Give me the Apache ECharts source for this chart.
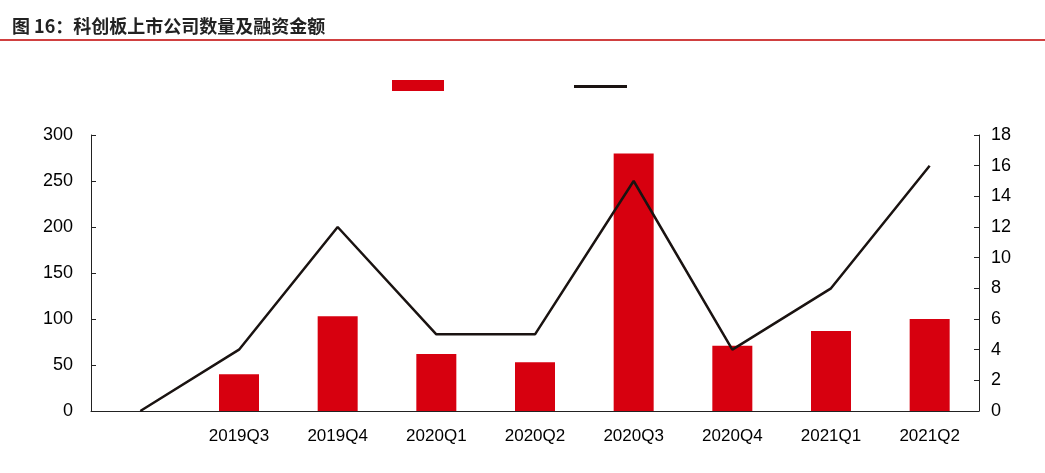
<!DOCTYPE html><html><head><meta charset="utf-8"><script src="https://cdn.jsdelivr.net/npm/echarts@6/dist/echarts.min.js"></script></head><body style="margin:0"><div id="c" style="width:1045px;height:473px"></div><script>
const categories=['','2019Q3','2019Q4','2020Q1','2020Q2','2020Q3','2020Q4','2021Q1','2021Q2'];
const amount=[null,40,103,62,53,280,71,87,100];
const count=[0,4,12,5,5,15,4,8,16];
const ch=echarts.init(document.getElementById('c'));
ch.setOption({
 animation:false,
 title:{text:'图 16：科创板上市公司数量及融资金额',left:7,top:12,textStyle:{fontSize:18,fontWeight:'bold',color:'#222',fontFamily:'Noto Sans CJK SC'}},
 graphic:[{type:'line',shape:{x1:0,y1:40,x2:1045,y2:40},style:{stroke:'#c00000',lineWidth:1.5}}],
 legend:[{data:['融资金额'],left:387,top:75,itemWidth:52,itemHeight:11,formatter:()=>'',icon:'rect'},
         {data:['上市公司数量'],left:569,top:80,itemWidth:53,itemHeight:3,formatter:()=>'',icon:'rect'}],
 grid:{left:91,right:66,top:135,bottom:62},
 xAxis:{type:'category',data:categories,axisTick:{show:false},axisLine:{lineStyle:{color:'#222'}},axisLabel:{color:'#000',fontSize:17,margin:17,fontFamily:'Liberation Sans'}},
 yAxis:[{type:'value',min:0,max:300,interval:50,splitLine:{show:false},axisLine:{show:true,lineStyle:{color:'#222'}},axisTick:{show:true,inside:true},axisLabel:{color:'#000',fontSize:18,fontFamily:'Liberation Sans',margin:18}},
        {type:'value',min:0,max:18,interval:2,splitLine:{show:false},axisLine:{show:true,lineStyle:{color:'#222'}},axisTick:{show:true,inside:true},axisLabel:{color:'#000',fontSize:18,fontFamily:'Liberation Sans',margin:12}}],
 series:[{name:'融资金额',type:'bar',data:amount,barWidth:40,itemStyle:{color:'#d7000f'}},
         {name:'上市公司数量',type:'line',yAxisIndex:1,data:count,symbol:'none',lineStyle:{color:'#1a1311',width:2.5},itemStyle:{color:'#1a1311'}}]
});
</script></body></html>
